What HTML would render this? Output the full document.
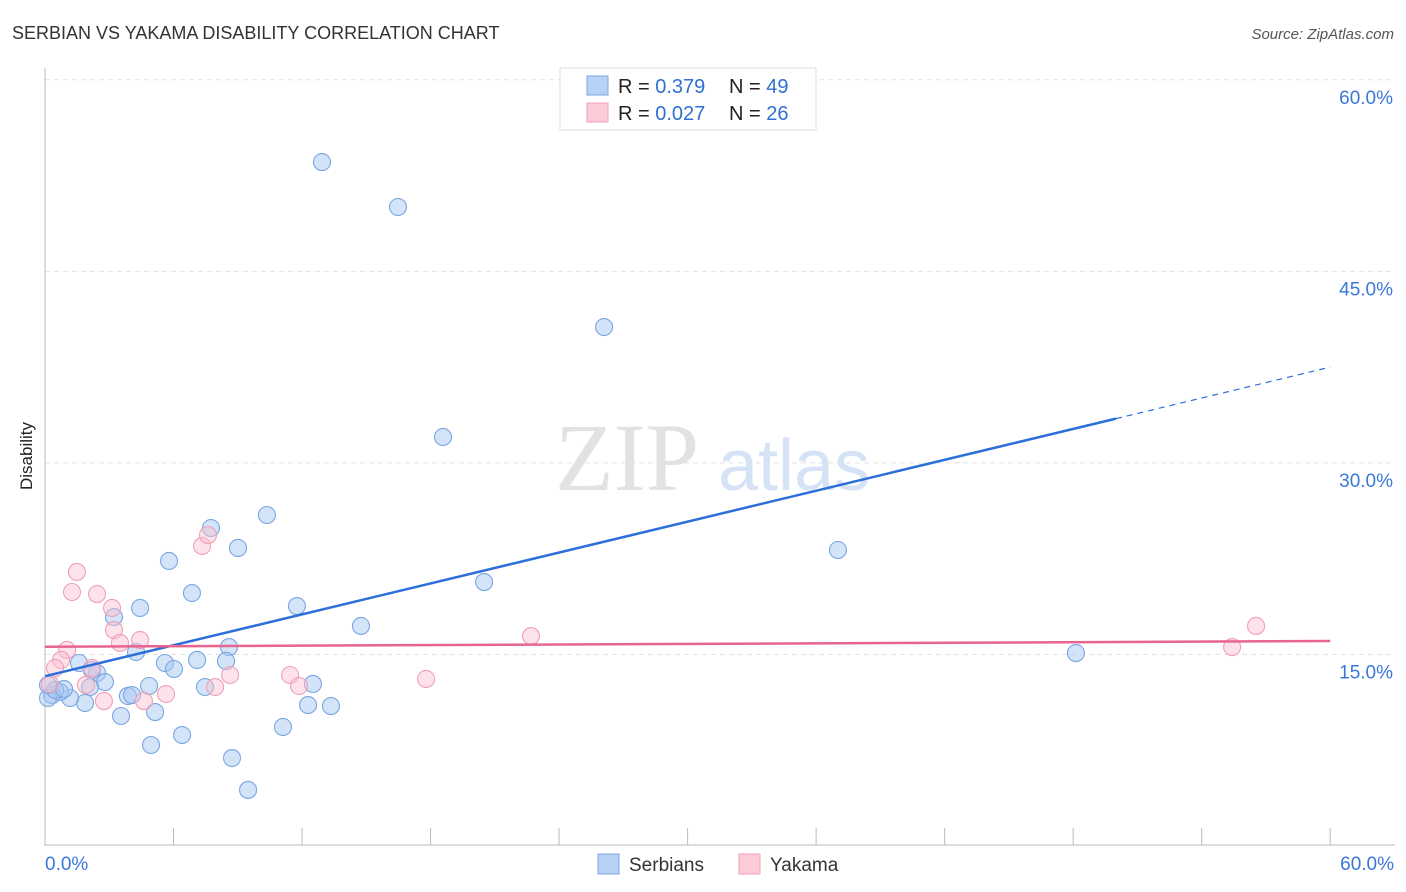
<!DOCTYPE html>
<html><head><meta charset="utf-8"><style>
body{margin:0;background:#fff;font-family:"Liberation Sans",sans-serif;}
svg{display:block}
</style></head><body>
<svg id="chart" width="1406" height="892">
<text x="12" y="39" font-size="18" fill="#333">SERBIAN VS YAKAMA DISABILITY CORRELATION CHART</text>
<text x="1394" y="39" font-size="15" fill="#555" font-style="italic" text-anchor="end">Source: ZipAtlas.com</text>
<text x="32" y="456" font-size="17" fill="#222" text-anchor="middle" transform="rotate(-90 32 456)">Disability</text>
<g id="grid"></g>
<text x="555" y="490" font-size="96" fill="#e2e2e2" font-family="Liberation Serif,serif">ZIP</text>
<text x="718" y="490" font-size="72" fill="#d6e3f6">atlas</text>
<g id="pts"></g>
<g id="lines"></g>
<g>
<rect x="560" y="68" width="256" height="62" fill="#fff" stroke="#ddd"/>
<rect x="587" y="76" width="21" height="19" fill="#b8d2f5" stroke="#7aa6e3"/>
<rect x="587" y="103" width="21" height="19" fill="#fccbd8" stroke="#f0a0b8"/>
<text x="618" y="93" font-size="20" fill="#222">R = <tspan fill="#2f6fd6">0.379</tspan></text>
<text x="729" y="93" font-size="20" fill="#222">N = <tspan fill="#2f6fd6">49</tspan></text>
<text x="618" y="120" font-size="20" fill="#222">R = <tspan fill="#2f6fd6">0.027</tspan></text>
<text x="729" y="120" font-size="20" fill="#222">N = <tspan fill="#2f6fd6">26</tspan></text>
</g>
<g>
<rect x="598" y="854" width="21" height="20" fill="#b8d2f5" stroke="#7aa6e3"/>
<text x="629" y="871" font-size="19" fill="#333">Serbians</text>
<rect x="739" y="854" width="21" height="20" fill="#fccbd8" stroke="#f0a0b8"/>
<text x="770" y="871" font-size="19" fill="#333">Yakama</text>
</g>
</svg>
<script>
const yTicks=[15,30,45,60];
const yTickLabels=["15.0%","30.0%","45.0%","60.0%"];
const xTickLabels=["0.0%","60.0%"];
const serbX=[12.93,16.48,26.10,18.58,37.02,20.50,48.13,10.36,7.75,9.01,5.79,6.86,4.44,3.22,11.76,14.75,8.59,4.25,5.60,6.02,7.10,8.45,2.43,1.59,2.80,2.19,4.86,7.47,12.51,3.87,5.14,3.55,12.28,13.35,1.87,1.17,0.70,0.33,0.14,0.47,11.11,6.40,4.95,8.73,9.48,0.89,2.10,4.06,0.14];
const serbY=[53.56,50.04,40.64,32.03,23.18,20.67,15.11,25.92,24.90,23.34,22.32,19.81,18.64,17.93,18.79,17.23,15.58,15.19,14.33,13.86,14.57,14.49,13.55,14.33,12.84,13.78,12.53,12.45,12.69,11.75,10.49,10.18,11.04,10.96,11.20,11.59,12.06,11.82,11.59,12.22,9.32,8.69,7.91,6.89,4.39,12.29,12.45,11.82,12.61];
const yakX=[1.49,1.26,2.43,3.13,3.22,4.44,3.50,1.03,0.75,0.47,2.19,1.91,0.23,2.75,4.62,5.65,7.94,8.64,11.44,11.86,17.79,22.69,56.54,55.42,7.33,7.61];
const yakY=[21.46,19.89,19.73,18.64,16.91,16.13,15.90,15.35,14.57,13.94,13.94,12.61,12.69,11.35,11.35,11.90,12.45,13.39,13.39,12.53,13.08,16.44,17.23,15.58,23.49,24.35];
const serbTrend=[13.3,37.5];
const yakTrend=[15.6,16.05];
const NS="http://www.w3.org/2000/svg";
const X=v=>45+v*21.42, Y=v=>846-v*12.77;
function mk(t,a,p){const e=document.createElementNS(NS,t);for(const k in a)e.setAttribute(k,a[k]);p.appendChild(e);return e;}
const grid=document.getElementById('grid');
yTicks.forEach((t,i)=>{
 const l=mk('line',{x1:45,x2:1395,y1:Y(t),y2:Y(t),stroke:'#e2e2e2','stroke-dasharray':'5,4'},grid);
 
 
 const tx=mk('text',{x:1393,y:Y(t)+24,'font-size':19,fill:'#3b78d8','text-anchor':'end'},grid);
 tx.textContent=yTickLabels[i];
 
 
});
mk('line',{x1:45,x2:45,y1:68,y2:846,stroke:'#bbb'},grid);
mk('line',{x1:45,x2:1395,y1:845,y2:845,stroke:'#bbb'},grid);
for(let k=0;k<=10;k++){mk('line',{x1:X(k*6),x2:X(k*6),y1:828,y2:845,stroke:'#bbb'},grid);}
const xl0=mk('text',{x:45,y:870,'font-size':19,fill:'#3b78d8'},grid);xl0.textContent=xTickLabels[0];


const xl1=mk('text',{x:1394,y:870,'font-size':19,fill:'#3b78d8','text-anchor':'end'},grid);xl1.textContent=xTickLabels[1];


const pts=document.getElementById('pts');
serbX.forEach((x,i)=>{const c=mk('circle',{cx:X(x),cy:Y(serbY[i]),r:8.5,fill:'rgba(168,200,242,0.5)',stroke:'#7aa6e3','stroke-width':1.1},pts);
 
 });
yakX.forEach((x,i)=>{const c=mk('circle',{cx:X(x),cy:Y(yakY[i]),r:8.5,fill:'rgba(250,190,208,0.45)',stroke:'#f0a0b8','stroke-width':1.1},pts);
 
 });
const lines=document.getElementById('lines');
const s=x=>serbTrend[0]+(serbTrend[1]-serbTrend[0])*x/60;
const b1=mk('line',{x1:X(0),y1:Y(s(0)),x2:X(50),y2:Y(s(50)),stroke:'#2d6fd9','stroke-width':2.5},lines);


const b2=mk('line',{x1:X(50),y1:Y(s(50)),x2:X(60),y2:Y(s(60)),stroke:'#2d6fd9','stroke-width':1.2,'stroke-dasharray':'6,5'},lines);


const p1=mk('line',{x1:X(0),y1:Y(yakTrend[0]),x2:X(60),y2:Y(yakTrend[1]),stroke:'#e8658f','stroke-width':2.5},lines);


</script>
</body></html>
